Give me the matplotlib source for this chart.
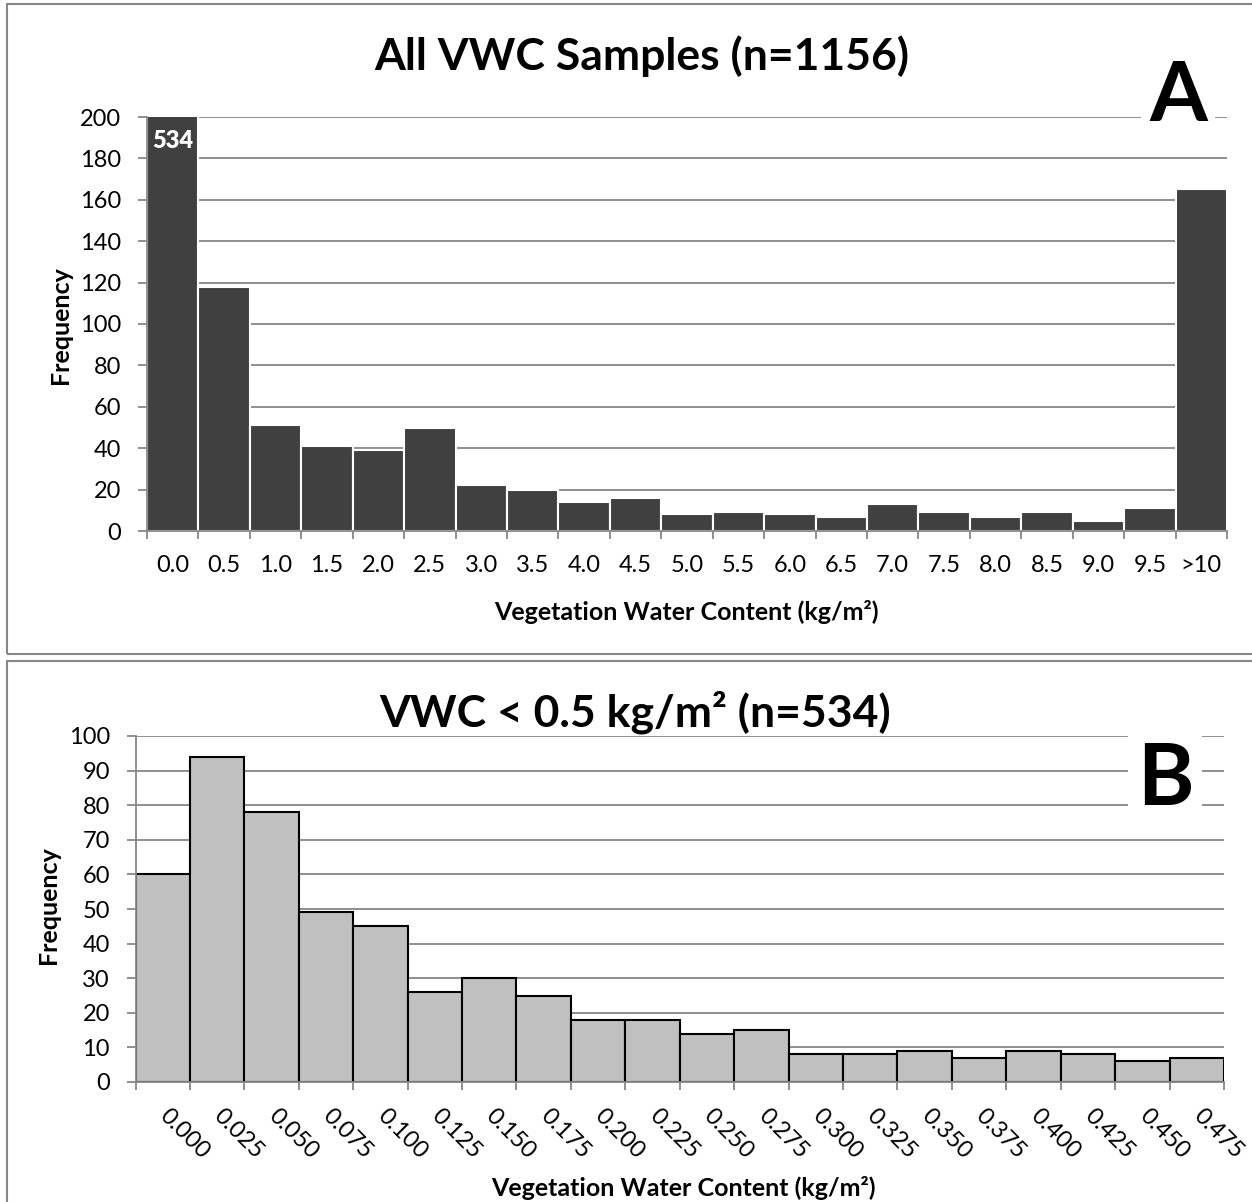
import matplotlib
matplotlib.use("Agg")
import matplotlib.pyplot as plt
from matplotlib.patches import Rectangle
import numpy as np

W, H = 1252, 1202

# panel A: all samples, 0.5 kg/m2 bins
bins_a = ['0.0', '0.5', '1.0', '1.5', '2.0', '2.5', '3.0', '3.5', '4.0', '4.5',
          '5.0', '5.5', '6.0', '6.5', '7.0', '7.5', '8.0', '8.5', '9.0', '9.5', '>10']
freq_a = [534, 118, 51, 41, 39, 50, 22, 20, 14, 16, 8, 9, 8, 7, 13, 9, 7, 9, 5, 11, 165]

# panel B: VWC < 0.5, 0.025 kg/m2 bins
bins_b = ['0.000', '0.025', '0.050', '0.075', '0.100', '0.125', '0.150', '0.175',
          '0.200', '0.225', '0.250', '0.275', '0.300', '0.325', '0.350', '0.375',
          '0.400', '0.425', '0.450', '0.475']
freq_b = [60, 94, 78, 49, 45, 26, 30, 25, 18, 18, 14, 15, 8, 8, 9, 7, 9, 8, 6, 7]

GRID = '#878787'
TICK_FS = 17
plt.rcParams['font.family'] = ['Lato', 'DejaVu Sans']


def px_box(l, t, r, b):
    # pixel edges -> figure fractions
    return [l / W, 1 - b / H, (r - l) / W, (b - t) / H]


def fx(x):
    return x / W


def fy(y):
    return 1 - y / H


def style(ax, labels, ymax, ystep, rot=False):
    n = len(labels)
    ax.set_xlim(0, n)
    ax.set_ylim(0, ymax)
    ax.set_yticks(np.arange(0, ymax + 1, ystep))
    ax.yaxis.grid(True, color=GRID, lw=1.3)
    ax.set_axisbelow(True)
    for s in ['top', 'right']:
        ax.spines[s].set_visible(False)
    for s in ['left', 'bottom']:
        ax.spines[s].set_color(GRID)
        ax.spines[s].set_linewidth(1.3)
    ax.set_xticks(np.arange(n + 1))
    ax.set_xticklabels([])
    ax.set_xticks(np.arange(n) + 0.5, minor=True)
    if rot:
        ax.set_xticklabels(labels, minor=True, rotation=-45, ha='left',
                           va='center', rotation_mode='anchor')
        ax.tick_params(axis='x', which='minor', length=0, pad=22, labelsize=TICK_FS)
    else:
        ax.set_xticklabels(labels, minor=True)
        ax.tick_params(axis='x', which='minor', length=0, pad=17, labelsize=TICK_FS)
    ax.tick_params(axis='x', which='major', length=6, width=1.3, color=GRID)
    ax.tick_params(axis='y', length=6.5, width=1.3, color=GRID, pad=12, labelsize=TICK_FS)


fig = plt.figure(figsize=(W / 100, H / 100), dpi=100)

# panel frames
fig.patches.append(Rectangle((fx(7), fy(654)), 1.0, fy(4) - fy(654), transform=fig.transFigure,
                             fill=False, edgecolor=GRID, lw=1.5))
fig.patches.append(Rectangle((fx(7), fy(1230)), 1.0, fy(661) - fy(1230), transform=fig.transFigure,
                             fill=False, edgecolor=GRID, lw=1.5))

# ---- A ----
axa = fig.add_axes(px_box(147, 117, 1227, 531))
xa = np.arange(len(freq_a))
axa.bar(xa, freq_a, width=1, align='edge', color='#404040', edgecolor='white', lw=1.5)
style(axa, bins_a, 200, 20)
axa.annotate(str(freq_a[0]), xy=(xa[0] + 0.5, 200), xytext=(0, -17), textcoords='offset points',
             ha='center', va='center', color='white', fontweight='heavy', fontsize=17)

fig.text(fx(642), fy(70), 'All VWC Samples (n=1156)', ha='center', va='baseline',
         fontsize=32, fontweight='bold')
fig.text(fx(60), fy(325), 'Frequency', rotation=90, ha='center', va='center',
         fontsize=18, fontweight='bold')
fig.text(fx(686), fy(612), 'Vegetation Water Content (kg/m²)', ha='center', va='center',
         fontsize=18, fontweight='bold')
fig.text(fx(1178), fy(121), 'A', ha='center', va='baseline', fontsize=60, fontweight='bold',
         bbox=dict(facecolor='white', edgecolor='none', pad=6))

# ---- B ----
axb = fig.add_axes(px_box(135.5, 736, 1224, 1082))
xb = np.arange(len(freq_b))
axb.bar(xb, freq_b, width=1, align='edge', color='#c0c0c0', edgecolor='black', lw=1.5)
style(axb, bins_b, 100, 10, rot=True)

fig.text(fx(635), fy(727), 'VWC < 0.5 kg/m² (n=534)', ha='center', va='baseline',
         fontsize=32, fontweight='bold')
fig.text(fx(48), fy(905), 'Frequency', rotation=90, ha='center', va='center',
         fontsize=18, fontweight='bold')
fig.text(fx(683), fy(1188), 'Vegetation Water Content (kg/m²)', ha='center', va='center',
         fontsize=18, fontweight='bold')
fig.text(fx(1165), fy(805), 'B', ha='center', va='baseline', fontsize=62, fontweight='bold',
         bbox=dict(facecolor='white', edgecolor='none', pad=6))

fig.savefig('out.png', dpi=100)
